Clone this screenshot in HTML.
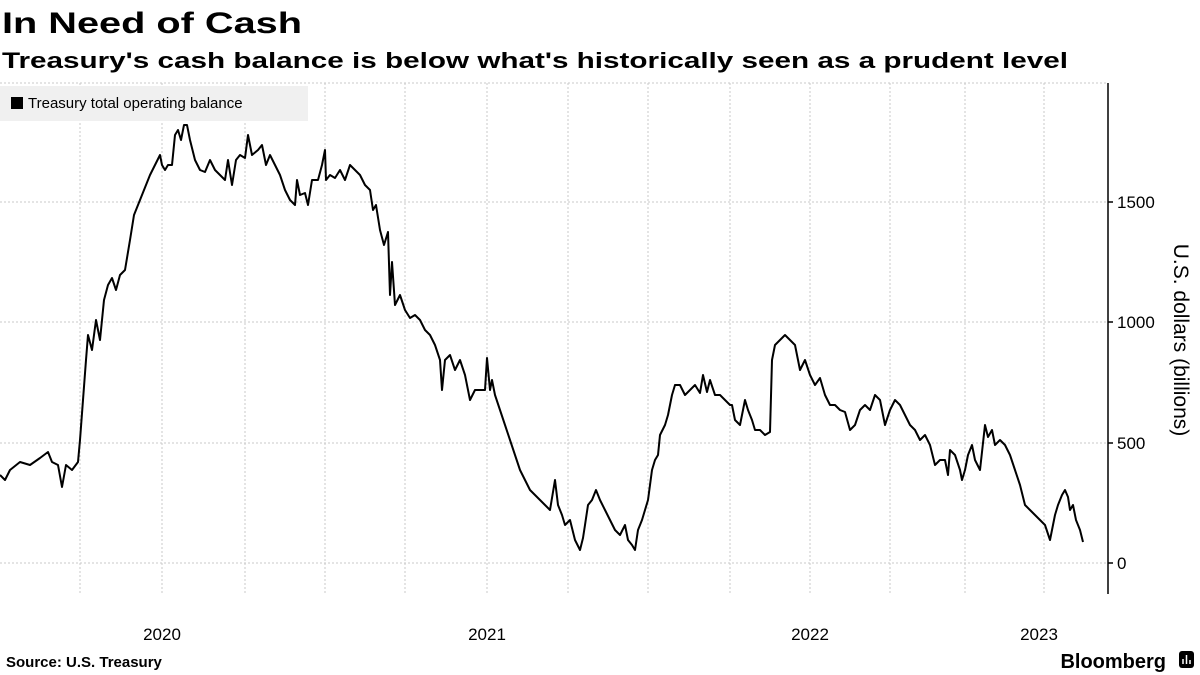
<!DOCTYPE html>
<html><head><meta charset="utf-8"><style>
html,body{margin:0;padding:0;background:#fff;}
svg{display:block;font-family:"Liberation Sans",sans-serif;}
</style></head><body>
<svg width="1200" height="675" viewBox="0 0 1200 675" xmlns="http://www.w3.org/2000/svg">
<rect width="1200" height="675" fill="#fff"/>
<text x="2" y="33" font-size="30" font-weight="bold" fill="#000" textLength="300" lengthAdjust="spacingAndGlyphs">In Need of Cash</text>
<text x="2" y="68" font-size="22" font-weight="bold" fill="#000" textLength="1066" lengthAdjust="spacingAndGlyphs">Treasury's cash balance is below what's historically seen as a prudent level</text>
<g stroke="#c8c8c8" stroke-width="1" stroke-dasharray="2,2">
<line x1="0" y1="83" x2="1107" y2="83"/>
<line x1="0" y1="202" x2="1107" y2="202"/>
<line x1="0" y1="322" x2="1107" y2="322"/>
<line x1="0" y1="443" x2="1107" y2="443"/>
<line x1="0" y1="563" x2="1107" y2="563"/>
<line x1="80" y1="83" x2="80" y2="594"/>
<line x1="162" y1="83" x2="162" y2="594"/>
<line x1="245" y1="83" x2="245" y2="594"/>
<line x1="325" y1="83" x2="325" y2="594"/>
<line x1="405" y1="83" x2="405" y2="594"/>
<line x1="487" y1="83" x2="487" y2="594"/>
<line x1="568" y1="83" x2="568" y2="594"/>
<line x1="648" y1="83" x2="648" y2="594"/>
<line x1="730" y1="83" x2="730" y2="594"/>
<line x1="810" y1="83" x2="810" y2="594"/>
<line x1="890" y1="83" x2="890" y2="594"/>
<line x1="965" y1="83" x2="965" y2="594"/>
<line x1="1044" y1="83" x2="1044" y2="594"/>
</g>
<rect x="0" y="86" width="308" height="35" fill="#f0f0f0"/>
<rect x="11" y="97" width="12" height="12" fill="#000"/>
<text x="28" y="108" font-size="15" fill="#000">Treasury total operating balance</text>
<line x1="1108" y1="83" x2="1108" y2="594" stroke="#000" stroke-width="1.5"/>
<g stroke="#000" stroke-width="1.5">
<line x1="1108" y1="202" x2="1113" y2="202"/>
<line x1="1108" y1="322" x2="1113" y2="322"/>
<line x1="1108" y1="443" x2="1113" y2="443"/>
<line x1="1108" y1="563" x2="1113" y2="563"/>
</g>
<g font-size="17" fill="#000">
<text x="1117" y="208">1500</text>
<text x="1117" y="328">1000</text>
<text x="1117" y="449">500</text>
<text x="1117" y="569">0</text>
<text x="162" y="640" text-anchor="middle">2020</text>
<text x="487" y="640" text-anchor="middle">2021</text>
<text x="810" y="640" text-anchor="middle">2022</text>
<text x="1039" y="640" text-anchor="middle">2023</text>
</g>
<text transform="translate(1174,340) rotate(90)" font-size="21" text-anchor="middle" fill="#000">U.S. dollars (billions)</text>
<polyline fill="none" stroke="#000" stroke-width="2" stroke-linejoin="round" points="0,475 5,480 10,470 20,462 30,465 40,458 48,452 52,462 58,465 62,487 66,465 72,470 78,462 80,440 83,400 86,360 88,335 92,350 96,320 100,340 104,300 108,285 112,278 116,290 120,275 125,270 130,240 134,215 138,205 142,195 146,185 150,175 155,165 160,155 162,165 165,170 168,165 172,165 175,135 178,130 181,140 184,125 187,125 190,140 195,160 200,170 205,172 210,160 215,170 220,175 225,180 228,160 232,185 236,160 240,155 245,158 248,135 252,155 258,150 262,145 266,165 270,155 275,165 280,175 285,190 290,200 295,205 297,180 300,195 305,193 308,205 312,180 318,180 322,165 325,150 326,180 330,175 335,178 340,170 345,180 350,165 355,170 360,175 365,185 370,190 373,210 376,205 380,230 384,245 388,232 390,295 392,262 395,305 400,295 405,310 410,318 415,315 420,320 425,330 430,335 435,345 440,360 442,390 445,360 450,355 455,370 460,360 465,375 470,400 475,390 480,390 485,390 487,358 490,390 492,380 495,395 500,410 505,425 510,440 515,455 520,470 525,480 530,490 535,495 540,500 545,505 550,510 555,480 558,505 562,515 565,525 570,520 575,540 580,550 583,538 585,525 588,505 592,500 596,490 600,500 605,510 610,520 615,530 620,535 625,525 628,540 632,545 635,550 638,530 642,520 645,510 648,500 652,470 655,460 658,455 660,435 665,425 668,415 672,395 675,385 680,385 685,395 690,390 695,385 700,393 703,375 707,392 710,380 715,395 720,395 725,400 730,405 732,405 735,420 740,425 745,400 748,410 752,420 755,430 760,430 765,435 770,432 772,360 775,345 780,340 785,335 790,340 795,345 800,370 805,360 810,375 815,385 820,378 825,395 830,405 835,405 840,410 845,412 850,430 855,425 860,410 865,405 870,410 875,395 880,400 885,425 890,410 895,400 900,405 905,415 910,425 915,430 920,440 925,435 930,445 935,465 940,460 945,460 948,475 950,450 955,455 960,470 962,480 965,470 968,455 972,445 975,460 980,470 985,425 988,437 992,430 995,445 1000,440 1005,445 1010,455 1015,470 1020,485 1025,505 1030,510 1035,515 1040,520 1045,525 1050,540 1052,530 1055,515 1058,505 1062,495 1065,490 1068,497 1070,510 1073,505 1076,520 1080,530 1083,542"/>
<text x="6" y="667" font-size="15" font-weight="bold" fill="#000">Source: U.S. Treasury</text>
<text x="1166" y="668" font-size="20" font-weight="bold" fill="#000" text-anchor="end">Bloomberg</text>
<rect x="1179" y="651" width="15" height="17" rx="3" fill="#000"/>
<g stroke="#fff" stroke-width="1.5">
<line x1="1183" y1="664" x2="1183" y2="659"/>
<line x1="1186.5" y1="664" x2="1186.5" y2="655"/>
<line x1="1190" y1="664" x2="1190" y2="660"/>
</g>
</svg>
</body></html>
